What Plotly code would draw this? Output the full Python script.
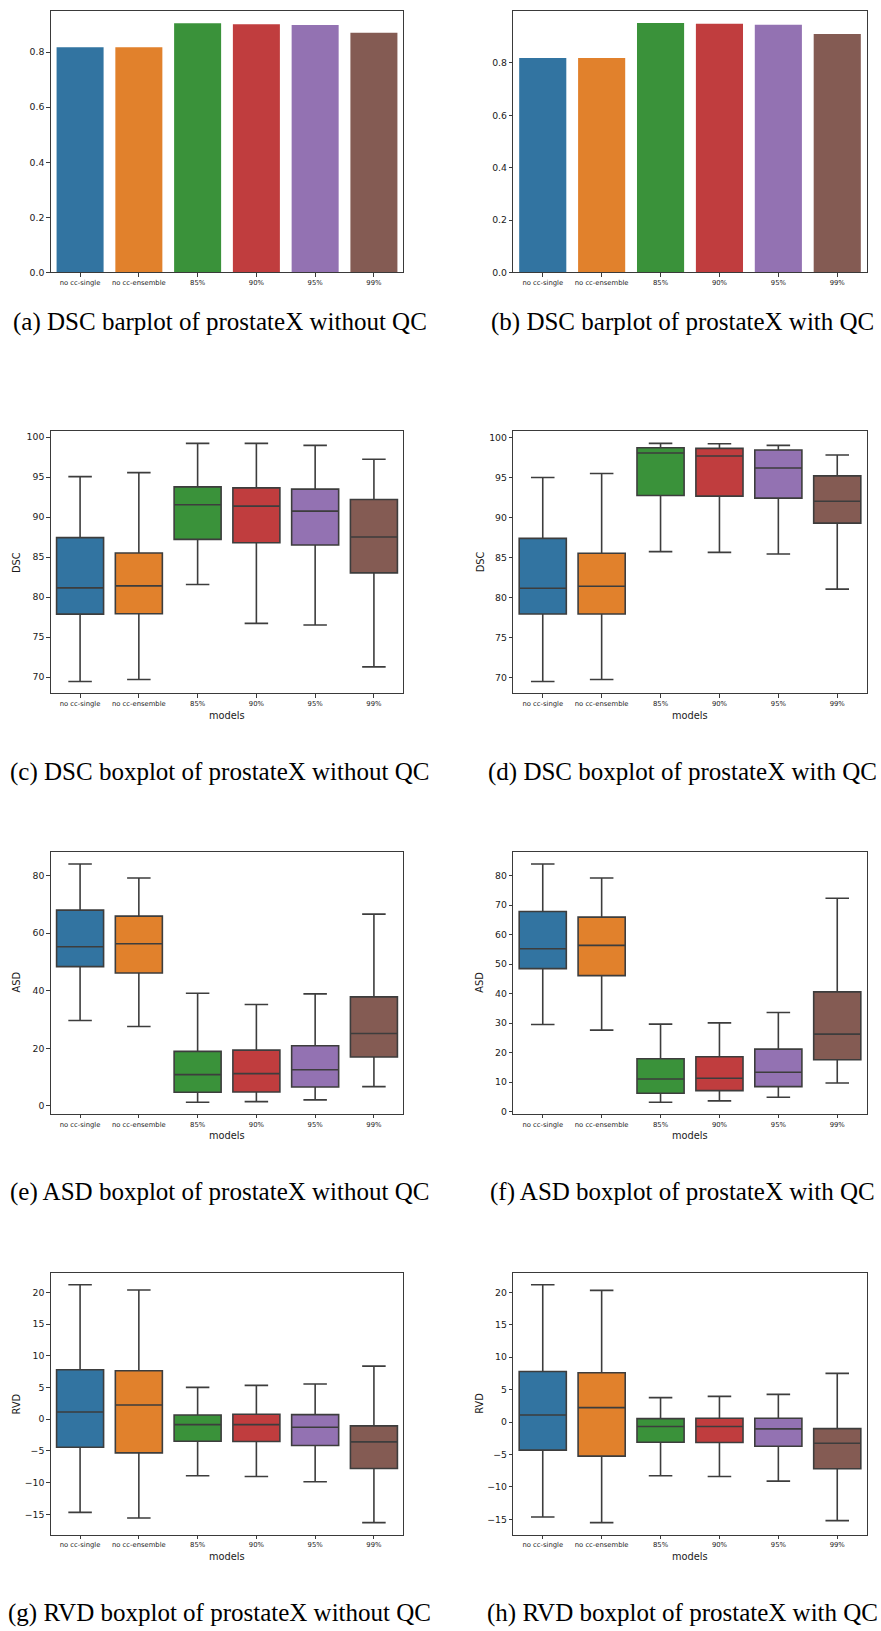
import plotly.graph_objects as go

# ---------------------------------------------------------------- data
models = ["no cc-single", "no cc-ensemble", "85%", "90%", "95%", "99%"]
palette = ["#3274A1", "#E1812C", "#3A923A", "#C03D3E", "#9372B2", "#845B53"]

# mean DSC per model (bar plots)
dsc_mean_without_qc = [0.818, 0.818, 0.905, 0.901, 0.899, 0.870]
dsc_mean_with_qc = [0.819, 0.819, 0.952, 0.950, 0.946, 0.910]

# box statistics: lower whisker, Q1, median, Q3, upper whisker
dsc_without_lower = [69.46, 69.71, 81.58, 76.72, 76.51, 71.29]
dsc_without_q1 = [77.88, 77.93, 87.22, 86.80, 86.51, 83.03]
dsc_without_median = [81.16, 81.41, 91.54, 91.37, 90.75, 87.51]
dsc_without_q3 = [87.43, 85.52, 93.78, 93.65, 93.49, 92.20]
dsc_without_upper = [95.06, 95.56, 99.21, 99.21, 98.96, 97.22]

dsc_with_lower = [69.50, 69.75, 85.73, 85.64, 85.44, 81.04]
dsc_with_q1 = [77.93, 77.93, 92.74, 92.66, 92.41, 89.29]
dsc_with_median = [81.16, 81.41, 98.05, 97.68, 96.18, 92.03]
dsc_with_q3 = [87.39, 85.52, 98.71, 98.63, 98.42, 95.19]
dsc_with_upper = [94.98, 95.48, 99.25, 99.21, 99.00, 97.80]

asd_without_lower = [29.67, 27.59, 1.27, 1.50, 2.08, 6.70]
asd_without_q1 = [48.37, 46.18, 4.73, 4.85, 6.58, 16.97]
asd_without_median = [55.30, 56.33, 10.85, 11.20, 12.58, 25.17]
asd_without_q3 = [68.00, 65.92, 18.93, 19.39, 20.89, 37.86]
asd_without_upper = [84.04, 79.19, 39.13, 35.21, 38.90, 66.61]

asd_with_lower = [29.52, 27.61, 3.15, 3.61, 4.85, 9.69]
asd_with_q1 = [48.45, 46.08, 6.20, 7.10, 8.45, 17.58]
asd_with_median = [55.21, 56.34, 11.04, 11.27, 13.30, 26.25]
asd_with_q3 = [67.83, 65.92, 17.92, 18.59, 21.18, 40.56]
asd_with_upper = [83.94, 79.21, 29.63, 30.08, 33.58, 72.34]

rvd_without_lower = [-14.69, -15.58, -8.92, -9.03, -9.87, -16.31]
rvd_without_q1 = [-4.42, -5.31, -3.47, -3.53, -4.15, -7.77]
rvd_without_median = [1.14, 2.24, -0.85, -0.85, -1.27, -3.58]
rvd_without_q3 = [7.79, 7.63, 0.67, 0.77, 0.72, -1.06]
rvd_without_upper = [21.21, 20.37, 5.02, 5.33, 5.54, 8.37]

rvd_with_lower = [-14.64, -15.51, -8.29, -8.39, -9.11, -15.21]
rvd_with_q1 = [-4.34, -5.26, -3.11, -3.16, -3.73, -7.21]
rvd_with_median = [1.09, 2.22, -0.70, -0.70, -1.06, -3.27]
rvd_with_q3 = [7.80, 7.60, 0.53, 0.58, 0.58, -1.01]
rvd_with_upper = [21.18, 20.31, 3.76, 3.96, 4.27, 7.50]

captions = [
    "(a) DSC barplot of prostateX without QC",
    "(b) DSC barplot of prostateX with QC",
    "(c) DSC boxplot of prostateX without QC",
    "(d) DSC boxplot of prostateX with QC",
    "(e) ASD boxplot of prostateX without QC",
    "(f) ASD boxplot of prostateX with QC",
    "(g) RVD boxplot of prostateX without QC",
    "(h) RVD boxplot of prostateX with QC",
]

# ---------------------------------------------------------------- layout geometry
W, H = 881, 1631
col_px = [(50.7, 403.3), (513.3, 866.7)]
row_px = [(10.7, 273.3), (432.7, 695.3), (854.3, 1117.3), (1276.7, 1539.3)]
caption_y_px = [323, 774, 1196, 1618]
caption_x_px = [219.5, 682.5]

SANS = "DejaVu Sans"
SERIF = "Liberation Serif"
LINE = "#3d3d3d"
FRAME = "#3a3a3a"
TEXT = "#1a1a1a"


def px_x(v):
    return v / W


def px_y(v):
    return 1 - v / H


fig = go.Figure()

panels = [
    # (kind, data, y-range, dtick, tickformat, ylabel)
    ("bar", dsc_mean_without_qc, [0, 0.9506], 0.2, ".1f", None),
    ("bar", dsc_mean_with_qc, [0, 0.9995], 0.2, ".1f", None),
    ("box", (dsc_without_lower, dsc_without_q1, dsc_without_median, dsc_without_q3, dsc_without_upper),
     [68.0, 100.71], 5, "d", "DSC"),
    ("box", (dsc_with_lower, dsc_with_q1, dsc_with_median, dsc_with_q3, dsc_with_upper),
     [68.05, 100.75], 5, "d", "DSC"),
    ("box", (asd_without_lower, asd_without_q1, asd_without_median, asd_without_q3, asd_without_upper),
     [-2.77, 88.31], 20, "d", "ASD"),
    ("box", (asd_with_lower, asd_with_q1, asd_with_median, asd_with_q3, asd_with_upper),
     [-0.79, 88.11], 10, "d", "ASD"),
    ("box", (rvd_without_lower, rvd_without_q1, rvd_without_median, rvd_without_q3, rvd_without_upper),
     [-18.20, 23.09], 5, "d", "RVD"),
    ("box", (rvd_with_lower, rvd_with_q1, rvd_with_median, rvd_with_q3, rvd_with_upper),
     [-17.36, 23.02], 5, "d", "RVD"),
]

annotations = []
layout_axes = {}

for idx, (kind, data, yrange, dtick, tfmt, ylabel) in enumerate(panels):
    r, c = divmod(idx, 2)
    n = idx + 1
    xref = "x" if n == 1 else f"x{n}"
    yref = "y" if n == 1 else f"y{n}"
    xkey = "xaxis" if n == 1 else f"xaxis{n}"
    ykey = "yaxis" if n == 1 else f"yaxis{n}"

    if kind == "bar":
        fig.add_trace(go.Bar(
            x=models, y=data, width=0.8,
            marker=dict(color=palette, line=dict(width=0)),
            xaxis=xref, yaxis=yref, showlegend=False,
        ))
    else:
        lower, q1, med, q3, upper = data
        for i, m in enumerate(models):
            fig.add_trace(go.Box(
                x=[m], lowerfence=[lower[i]], q1=[q1[i]], median=[med[i]],
                q3=[q3[i]], upperfence=[upper[i]],
                width=0.8, whiskerwidth=0.5, boxpoints=False,
                fillcolor=palette[i], line=dict(color=LINE, width=1.6),
                xaxis=xref, yaxis=yref, showlegend=False,
            ))

    x0, x1 = col_px[c]
    y0, y1 = row_px[r]
    layout_axes[xkey] = dict(
        domain=[px_x(x0), px_x(x1)], anchor=yref,
        type="category", categoryorder="array", categoryarray=models,
        range=[-0.5, 5.5],
        showline=True, mirror=True, linecolor=FRAME, linewidth=1,
        ticks="outside", ticklen=3.5, tickwidth=1, tickcolor=FRAME,
        tickfont=dict(family=SANS, size=6.8, color=TEXT),
        showgrid=False, zeroline=False, fixedrange=True,
    )
    layout_axes[ykey] = dict(
        domain=[px_y(y1), px_y(y0)], anchor=xref,
        range=yrange, dtick=dtick, tick0=0, tickformat=tfmt,
        showline=True, mirror=True, linecolor=FRAME, linewidth=1,
        ticks="outside", ticklen=3.5, tickwidth=1, tickcolor=FRAME,
        tickfont=dict(family=SANS, size=9.3, color=TEXT),
        showgrid=False, zeroline=False, fixedrange=True,
    )

    if ylabel:
        annotations.append(dict(
            text=ylabel, xref="paper", yref="paper",
            x=px_x(16.7 if c == 0 else 480), y=px_y((y0 + y1) / 2),
            xanchor="center", yanchor="middle", textangle=-90, showarrow=False,
            font=dict(family=SANS, size=9.8, color=TEXT),
        ))
        annotations.append(dict(
            text="models", xref="paper", yref="paper",
            x=px_x((x0 + x1) / 2), y=px_y(y1 + 22),
            xanchor="center", yanchor="middle", showarrow=False,
            font=dict(family=SANS, size=9.8, color=TEXT),
        ))

    annotations.append(dict(
        text=captions[idx], xref="paper", yref="paper",
        x=px_x(caption_x_px[c]), y=px_y(caption_y_px[r]),
        xanchor="center", yanchor="middle", showarrow=False,
        font=dict(family=SERIF, size=25, color="#000000"),
    ))

fig.update_layout(
    width=W, height=H,
    margin=dict(l=0, r=0, t=0, b=0),
    paper_bgcolor="white", plot_bgcolor="white",
    boxmode="overlay",
    annotations=annotations,
    **layout_axes,
)

fig.write_html("out.html", config={"displayModeBar": False})
